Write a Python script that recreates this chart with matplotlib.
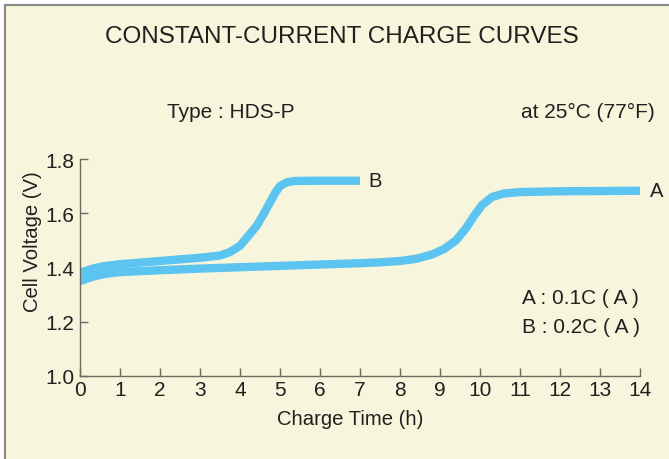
import matplotlib
matplotlib.use("Agg")
import matplotlib.pyplot as plt
from matplotlib.lines import Line2D

# charge time (h) and cell voltage (V)
hours_a = [0, 0.3, 0.6, 1.0, 2.0, 3.0, 4.0, 5.0, 6.0, 7.0, 7.5, 8.0, 8.4, 8.8,
           9.1, 9.4, 9.65, 9.85, 10.05, 10.3, 10.6, 11.0, 12.0, 13.0, 14.0]
volts_a = [1.350, 1.365, 1.376, 1.383, 1.390, 1.396, 1.401, 1.406, 1.411, 1.416,
           1.419, 1.424, 1.432, 1.448, 1.468, 1.500, 1.545, 1.590, 1.630, 1.660,
           1.673, 1.678, 1.681, 1.682, 1.683]

hours_b = [0, 0.3, 0.6, 1.0, 1.5, 2.0, 2.5, 3.0, 3.5, 3.75, 4.0, 4.2, 4.42,
           4.6, 4.75, 4.88, 5.0, 5.15, 5.35, 6.0, 7.0]
volts_b = [1.380, 1.395, 1.405, 1.412, 1.418, 1.424, 1.430, 1.436, 1.444, 1.457,
           1.480, 1.515, 1.554, 1.600, 1.640, 1.675, 1.700, 1.713, 1.719, 1.720,
           1.720]

x_ticks = list(range(0, 15))
y_ticks = [1.0, 1.2, 1.4, 1.6, 1.8]

bg = "#f7f6dc"
ink = "#231f20"
blue = "#5bc4f0"
axis_col = "#6b6b60"
plt.rcParams['font.family'] = ['Liberation Sans', 'DejaVu Sans']

fig = plt.figure(figsize=(6.69, 4.60), dpi=100, facecolor=bg)
# frame (left and top edges visible)
fig.add_artist(Line2D([0, 0], [0, 1], transform=fig.transFigure, color="white", lw=8))
fig.add_artist(Line2D([0, 1], [1, 1], transform=fig.transFigure, color="white", lw=9))
fig.add_artist(Line2D([5 / 669, 5 / 669], [0, 1 - 6 / 460], transform=fig.transFigure,
                      color="#8a8a8a", lw=1.5))
fig.add_artist(Line2D([5 / 669, 1], [1 - 6 / 460, 1 - 6 / 460], transform=fig.transFigure,
                      color="#8a8a8a", lw=1.5))

ax = fig.add_axes([80 / 669, 1 - 377 / 460, 560 / 669, 217 / 460])
ax.set_facecolor(bg)
ax.plot(hours_a, volts_a, color=blue, lw=6, solid_capstyle='butt', solid_joinstyle='round')
ax.plot(hours_b, volts_b, color=blue, lw=6, solid_capstyle='butt', solid_joinstyle='round')

ax.set_xlim(0, 14)
ax.set_ylim(1.0, 1.8)
ax.set_xticks(x_ticks)
ax.set_yticks(y_ticks)
ax.set_yticklabels(["%.1f" % v for v in y_ticks])
for s in ["top", "right"]:
    ax.spines[s].set_visible(False)
for s in ["left", "bottom"]:
    ax.spines[s].set_color(axis_col)
    ax.spines[s].set_linewidth(1.0)
ax.tick_params(direction="in", length=6, width=1, color=axis_col, labelsize=15,
               labelcolor=ink)
ax.tick_params(axis="x", pad=3)
ax.tick_params(axis="y", pad=4)

ax.text(14.25, 1.683, "A", fontsize=14.5, color=ink, va="center", ha="left")
ax.text(7.2, 1.720, "B", fontsize=14.5, color=ink, va="center", ha="left")
ax.text(11.05, 1.288, "A : 0.1C ( A )", fontsize=15, color=ink, va="center", ha="left")
ax.text(11.05, 1.181, "B : 0.2C ( A )", fontsize=15, color=ink, va="center", ha="left")

fig.text(342 / 669, 1 - 37 / 460, "CONSTANT-CURRENT CHARGE CURVES", fontsize=17.5,
         color=ink, ha="center", va="center")
fig.text(167 / 669, 1 - 112 / 460, "Type : HDS-P", fontsize=15, color=ink,
         ha="left", va="center")
fig.text(655 / 669, 1 - 112 / 460, "at 25°C (77°F)", fontsize=15, color=ink,
         ha="right", va="center")
fig.text(350 / 669, 1 - 420 / 460, "Charge Time (h)", fontsize=14.6, color=ink,
         ha="center", va="center")
fig.text(32 / 669, 1 - 242 / 460, "Cell Voltage (V)", fontsize=14.6, color=ink,
         ha="center", va="center", rotation=90)

fig.savefig("out.png", dpi=100, facecolor=bg)
